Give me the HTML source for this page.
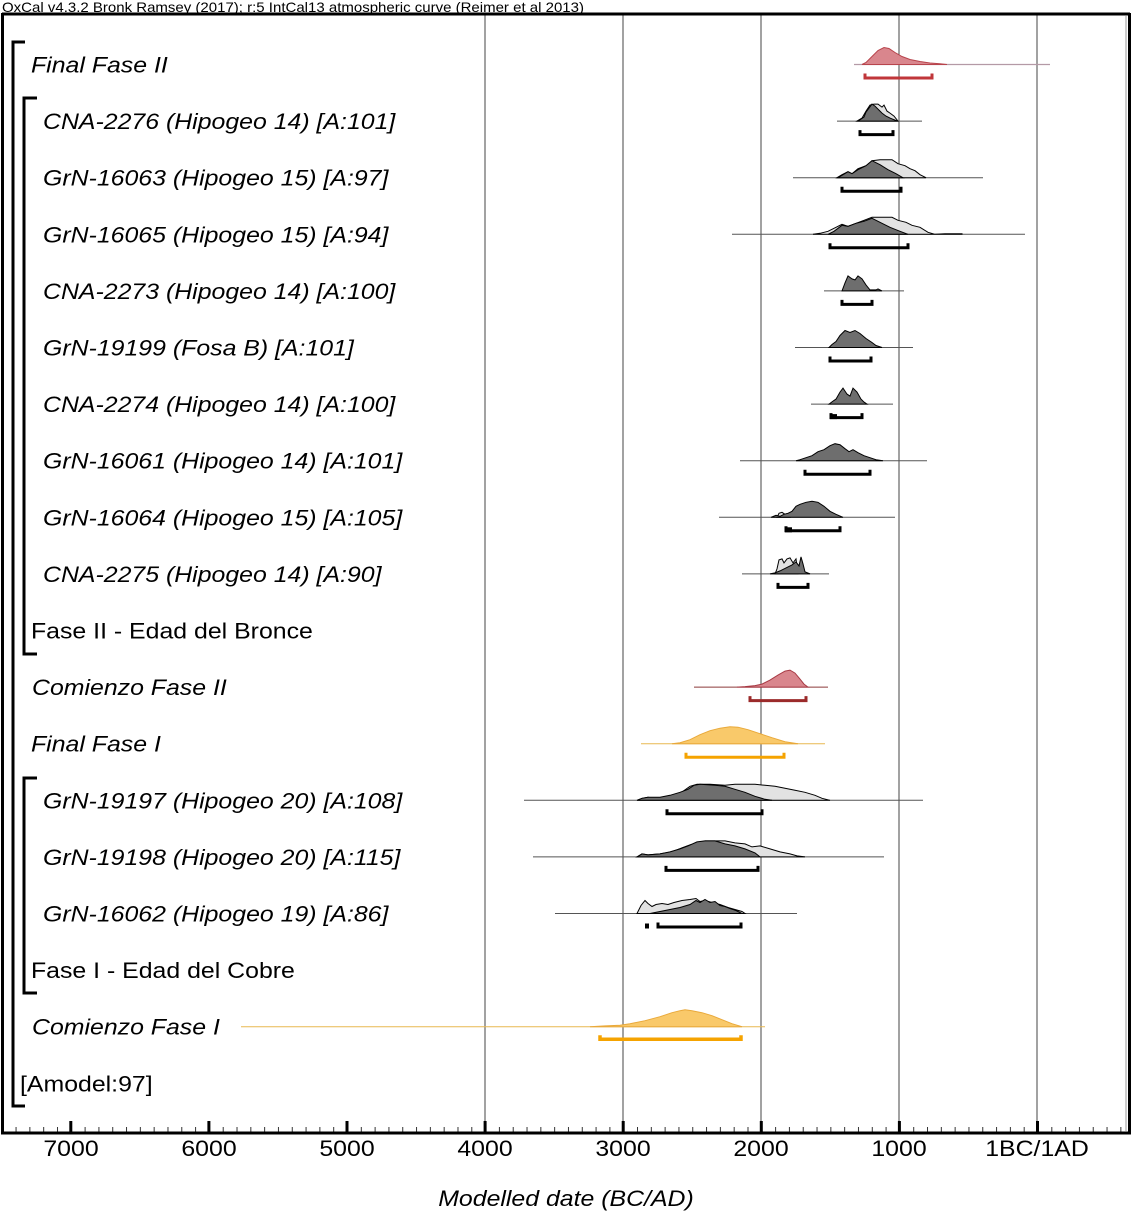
<!DOCTYPE html>
<html><head><meta charset="utf-8"><style>
html,body{margin:0;padding:0;background:#fff;}
svg{display:block;}
text{font-family:"Liberation Sans",Arial,sans-serif;fill:#000;}
.it{font-style:italic;font-size:22px;}
.nm{font-size:22px;}
.ln{stroke:#555;stroke-width:1;}
.dk{fill:#6e6e6e;stroke:#000;stroke-width:1;}
.lt{fill:#e2e2e2;stroke:#000;stroke-width:1;}
.br{fill:none;stroke:#000;stroke-width:3;}
</style></head><body>
<svg width="1133" height="1216" viewBox="0 0 1133 1216" xmlns="http://www.w3.org/2000/svg">
<defs>
<pattern id="mt" x="485.1" y="0" width="13.81" height="1216" patternUnits="userSpaceOnUse">
<rect x="0" y="0" width="1" height="1216" fill="#333"/>
</pattern>
</defs>
<rect width="1133" height="1216" fill="#fff"/>
<text x="2" y="12" font-size="14" textLength="582" lengthAdjust="spacingAndGlyphs">OxCal v4.3.2 Bronk Ramsey (2017); r:5 IntCal13 atmospheric curve (Reimer et al 2013)</text>

<!-- gridlines -->
<g stroke="#444" stroke-width="1">
<line x1="485" y1="15" x2="485" y2="1133"/>
<line x1="623" y1="15" x2="623" y2="1133"/>
<line x1="761" y1="15" x2="761" y2="1133"/>
<line x1="899" y1="15" x2="899" y2="1133"/>
<line x1="1037" y1="15" x2="1037" y2="1133"/>
</g>

<!-- frame -->
<line x1="2" y1="14" x2="1130" y2="14" stroke="#000" stroke-width="3"/>
<line x1="2.5" y1="13" x2="2.5" y2="1134" stroke="#000" stroke-width="3"/>
<line x1="1129.5" y1="13" x2="1129.5" y2="1134" stroke="#000" stroke-width="3"/>
<line x1="1126" y1="16" x2="1126" y2="1131" stroke="#999" stroke-width="1"/>
<!-- minor ticks -->
<rect x="4" y="1127" width="1124" height="6" fill="url(#mt)"/>
<!-- axis -->
<line x1="1" y1="1133" x2="1131" y2="1133" stroke="#000" stroke-width="3"/>
<!-- major ticks -->
<g stroke="#000" stroke-width="3">
<line x1="70.8" y1="1121" x2="70.8" y2="1133"/>
<line x1="208.9" y1="1121" x2="208.9" y2="1133"/>
<line x1="347" y1="1121" x2="347" y2="1133"/>
<line x1="485.1" y1="1121" x2="485.1" y2="1133"/>
<line x1="623.2" y1="1121" x2="623.2" y2="1133"/>
<line x1="761.3" y1="1121" x2="761.3" y2="1133"/>
<line x1="899.4" y1="1121" x2="899.4" y2="1133"/>
<line x1="1037.5" y1="1121" x2="1037.5" y2="1133"/>
</g>
<!-- tick labels -->
<g class="nm" text-anchor="middle">
<text transform="translate(71,1156) scale(1.13,1)">7000</text>
<text transform="translate(209,1156) scale(1.13,1)">6000</text>
<text transform="translate(347,1156) scale(1.13,1)">5000</text>
<text transform="translate(485,1156) scale(1.13,1)">4000</text>
<text transform="translate(623,1156) scale(1.13,1)">3000</text>
<text transform="translate(761,1156) scale(1.13,1)">2000</text>
<text transform="translate(899,1156) scale(1.13,1)">1000</text>
<text transform="translate(1037,1156) scale(1.13,1)">1BC/1AD</text>
</g>
<text class="it" text-anchor="middle" transform="translate(566,1206) scale(1.13,1)">Modelled date (BC/AD)</text>

<!-- left brackets -->
<path class="br" d="M25,42 H13 V1106 H25"/>
<path class="br" d="M37,98 H24 V654 H37"/>
<path class="br" d="M37,778 H24 V993 H37"/>

<!-- labels -->
<g class="it">
<text transform="translate(31,72.5) scale(1.13,1)">Final Fase II</text>
<text transform="translate(43,129.1) scale(1.13,1)">CNA-2276 (Hipogeo 14) [A:101]</text>
<text transform="translate(43,185.7) scale(1.13,1)">GrN-16063 (Hipogeo 15) [A:97]</text>
<text transform="translate(43,242.3) scale(1.13,1)">GrN-16065 (Hipogeo 15) [A:94]</text>
<text transform="translate(43,298.9) scale(1.13,1)">CNA-2273 (Hipogeo 14) [A:100]</text>
<text transform="translate(43,355.5) scale(1.13,1)">GrN-19199 (Fosa B) [A:101]</text>
<text transform="translate(43,412.1) scale(1.13,1)">CNA-2274 (Hipogeo 14) [A:100]</text>
<text transform="translate(43,468.7) scale(1.13,1)">GrN-16061 (Hipogeo 14) [A:101]</text>
<text transform="translate(43,525.3) scale(1.13,1)">GrN-16064 (Hipogeo 15) [A:105]</text>
<text transform="translate(43,581.9) scale(1.13,1)">CNA-2275 (Hipogeo 14) [A:90]</text>
<text transform="translate(32,695.1) scale(1.13,1)">Comienzo Fase II</text>
<text transform="translate(31,751.7) scale(1.13,1)">Final Fase I</text>
<text transform="translate(43,808.3) scale(1.13,1)">GrN-19197 (Hipogeo 20) [A:108]</text>
<text transform="translate(43,864.9) scale(1.13,1)">GrN-19198 (Hipogeo 20) [A:115]</text>
<text transform="translate(43,921.5) scale(1.13,1)">GrN-16062 (Hipogeo 19) [A:86]</text>
<text transform="translate(32,1034.7) scale(1.13,1)">Comienzo Fase I</text>
</g>
<g class="nm">
<text transform="translate(31,638.5) scale(1.13,1)">Fase II - Edad del Bronce</text>
<text transform="translate(31,978.1) scale(1.13,1)">Fase I - Edad del Cobre</text>
<text transform="translate(20,1091.3) scale(1.13,1)">[Amodel:97]</text>
</g>

<!-- Row 0 Final Fase II -->
<g transform="translate(0,64.5)">
<line x1="854" y1="0" x2="1050" y2="0" stroke="#b49aa6" stroke-width="1.2"/>
<polygon fill="#d9868d" stroke="#b8444c" stroke-width="1" points="862,0 866,-2 872,-8 878,-14 884,-17 889,-16 895,-12 902,-8 910,-5 920,-3 930,-1.5 940,-0.8 947,0"/>
<path d="M865,9 V13.5 H932 V9" fill="none" stroke="#c0363a" stroke-width="3"/>
</g>
<!-- Row 1 CNA-2276 -->
<g transform="translate(0,121.1)">
<line class="ln" x1="837" y1="0" x2="922" y2="0"/>
<polygon class="lt" points="857,0 862,-3 866,-10 870,-16 874,-17 878,-17 882,-14 884,-16 887,-10 890,-8 894,-5 898,0"/>
<polygon class="dk" points="858,0 861,-2 864,-4 866,-9 869,-13 872,-17 875,-15 878,-12 882,-8 886,-5 890,-3 895,-1 898,0"/>
<path class="br" d="M860,9 V13.5 H893 V9"/>
</g>
<!-- Row 2 GrN-16063 -->
<g transform="translate(0,177.7)">
<line class="ln" x1="793" y1="0" x2="983" y2="0"/>
<polygon class="lt" points="837,0 842,-3 848,-6 852,-4 858,-9 866,-12 872,-17 880,-18 892,-18 898,-14 905,-12 910,-9 915,-7 920,-3 926,0"/>
<polygon class="dk" points="838,0 843,-3 848,-6 852,-4 858,-8 866,-12 872,-17 880,-13 888,-8 896,-4 903,0"/>
<path class="br" d="M842,9 V13.5 H901 V9"/>
</g>
<!-- Row 3 GrN-16065 -->
<g transform="translate(0,234.3)">
<line class="ln" x1="732" y1="0" x2="1025" y2="0"/>
<polygon class="lt" points="813,0 820,-1 828,-3 836,-7 842,-10 848,-8 856,-11 864,-14 872,-17 880,-17 892,-17 898,-14 906,-12 912,-9 920,-7 928,-2 935,0 945,-0.6 962,-0.6 962,0"/>
<polygon class="dk" points="828,0 834,-3 842,-9 848,-8 856,-11 864,-13 872,-16 880,-12 890,-7 900,-3 908,0"/>
<path class="br" d="M830,9 V13.5 H908 V9"/>
</g>
<!-- Row 4 CNA-2273 -->
<g transform="translate(0,290.9)">
<line class="ln" x1="824" y1="0" x2="904" y2="0"/>
<polygon class="dk" points="842,0 845,-8 848,-15 852,-12 855,-11 858,-15 862,-12 866,-6 870,-1 876,-1 878,-2 882,0"/>
<path class="br" d="M842,9 V13.5 H872 V9"/>
</g>
<!-- Row 5 GrN-19199 -->
<g transform="translate(0,347.5)">
<line class="ln" x1="795" y1="0" x2="913" y2="0"/>
<polygon class="dk" points="829,0 832,-3 836,-6 840,-12 845,-17 850,-15 855,-17 860,-14 866,-9 872,-5 876,-2 882,0"/>
<path class="br" d="M830,9 V13.5 H871 V9"/>
</g>
<!-- Row 6 CNA-2274 -->
<g transform="translate(0,404.1)">
<line class="ln" x1="811" y1="0" x2="893" y2="0"/>
<polygon class="dk" points="829,0 833,-3 836,-5 840,-12 843,-16 847,-10 850,-8 853,-16 857,-12 861,-5 864,-2 867,0"/>
<path class="br" d="M831,9 V13.5 H862 V9"/>
<rect x="830" y="10" width="7" height="5" fill="#000"/>
</g>
<!-- Row 7 GrN-16061 -->
<g transform="translate(0,460.7)">
<line class="ln" x1="740" y1="0" x2="927" y2="0"/>
<polygon class="dk" points="796,0 800,-1 806,-3 812,-5 818,-9 824,-11 830,-15 835,-17 840,-16 845,-12 849,-9 853,-11 858,-8 864,-5 870,-3 876,-1 883,0"/>
<path class="br" d="M805,9 V13.5 H870 V9"/>
</g>
<!-- Row 8 GrN-16064 -->
<g transform="translate(0,517.3)">
<line class="ln" x1="719" y1="0" x2="895" y2="0"/>
<polygon class="lt" points="777,0 779,-4 782,-5 785,-3 788,-4 790,0"/>
<polygon class="dk" points="771,0 776,-2 780,-1 784,-3 788,-4 792,-6 796,-11 800,-13 806,-15 812,-16 818,-15 824,-11 830,-6 836,-3 843,0"/>
<path class="br" d="M786,9 V13.5 H840 V9"/>
<rect x="785" y="10" width="7" height="5" fill="#000"/>
</g>
<!-- Row 9 CNA-2275 -->
<g transform="translate(0,573.9)">
<line class="ln" x1="742" y1="0" x2="829" y2="0"/>
<polygon class="lt" points="775,0 777,-5 779,-14 782,-15 784,-11 787,-15 790,-16 793,-11 796,-15 798,0"/>
<polygon class="dk" points="770,0 775,-1 780,-3 786,-6 792,-9 796,-12 799,-8 801,-17 803,-10 805,-2 810,0"/>
<path class="br" d="M778,9 V13.5 H808 V9"/>
</g>
<!-- Row 11 Comienzo Fase II -->
<g transform="translate(0,687.1)">
<line x1="694" y1="0" x2="828" y2="0" stroke="#8c3a3a" stroke-width="1"/>
<polygon fill="#d9868d" stroke="#a83a44" stroke-width="1" points="737,0 745,-0.5 755,-1.5 762,-3 770,-7 778,-12 785,-16 790,-17 795,-14 800,-8 804,-3 808,0"/>
<path d="M750,9 V13.5 H806 V9" fill="none" stroke="#9b2a2a" stroke-width="3"/>
</g>
<!-- Row 12 Final Fase I -->
<g transform="translate(0,743.7)">
<line x1="641" y1="0" x2="825" y2="0" stroke="#e8b850" stroke-width="1"/>
<polygon fill="#f9c96a" stroke="#e9a93a" stroke-width="1" points="672,0 680,-1 690,-4 700,-9 710,-13 720,-15.5 730,-17 738,-16.5 748,-14 760,-10 772,-6 785,-2 798,0"/>
<path d="M686,9 V13.5 H784 V9" fill="none" stroke="#f5a300" stroke-width="3"/>
</g>
<!-- Row 13 GrN-19197 -->
<g transform="translate(0,800.3)">
<line class="ln" x1="524" y1="0" x2="923" y2="0"/>
<polygon class="lt" points="637,0 642,-2 648,-3 654,-2 665,-3 675,-5 683,-9 690,-14 697,-16 710,-16 725,-15 735,-16 745,-16 755,-16 765,-15 775,-14 785,-12 795,-10 805,-8 815,-5 822,-2 830,0"/>
<polygon class="dk" points="637,0 642,-2 648,-3 660,-3 670,-5 680,-8 688,-11 694,-15 700,-16 715,-15 725,-14 735,-11 745,-8 755,-4 765,-1 772,0"/>
<path class="br" d="M667,9 V13.5 H762 V9"/>
</g>
<!-- Row 14 GrN-19198 -->
<g transform="translate(0,856.9)">
<line class="ln" x1="533" y1="0" x2="884" y2="0"/>
<polygon class="lt" points="637,0 642,-3 648,-2 660,-3 672,-5 682,-9 690,-12 697,-14 705,-16 715,-16 725,-16 735,-14 745,-13 752,-10 760,-11 770,-8 780,-5 790,-3 797,-1 805,0"/>
<polygon class="dk" points="637,0 642,-3 648,-2 660,-3 670,-5 680,-8 688,-11 697,-15 705,-16 715,-16 725,-13 735,-11 745,-8 755,-4 760,0"/>
<path class="br" d="M666,9 V13.5 H758 V9"/>
</g>
<!-- Row 15 GrN-16062 -->
<g transform="translate(0,913.5)">
<line class="ln" x1="555" y1="0" x2="797" y2="0"/>
<polygon class="lt" points="637,0 641,-8 645,-13 648,-10 652,-7 656,-9 662,-10 668,-9 674,-11 682,-13 690,-14 696,-15 700,-12 705,-13 712,-11 720,-9 728,-6 735,-4 742,-2 745,0"/>
<polygon class="dk" points="650,0 660,-2 670,-4 680,-6 690,-9 696,-13 700,-11 705,-14 710,-11 715,-12 720,-8 725,-7 730,-5 736,-3 742,0"/>
<path class="br" d="M658,9 V13.5 H741 V9"/>
<rect x="645" y="10" width="4" height="5" fill="#000"/>
</g>
<!-- Row 17 Comienzo Fase I -->
<g transform="translate(0,1026.7)">
<line x1="241" y1="0" x2="765" y2="0" stroke="#e8b850" stroke-width="1"/>
<polygon fill="#f9c96a" stroke="#e9a93a" stroke-width="1" points="590,0 605,-0.8 620,-1.5 630,-3 645,-6 660,-10 672,-14 680,-16 685,-17 692,-16 702,-14 712,-11 722,-7 732,-3 742,0"/>
<path d="M600,8.5 V12.5 H741 V8.5" fill="none" stroke="#f5a300" stroke-width="3.5"/>
</g>
</svg>
</body></html>
